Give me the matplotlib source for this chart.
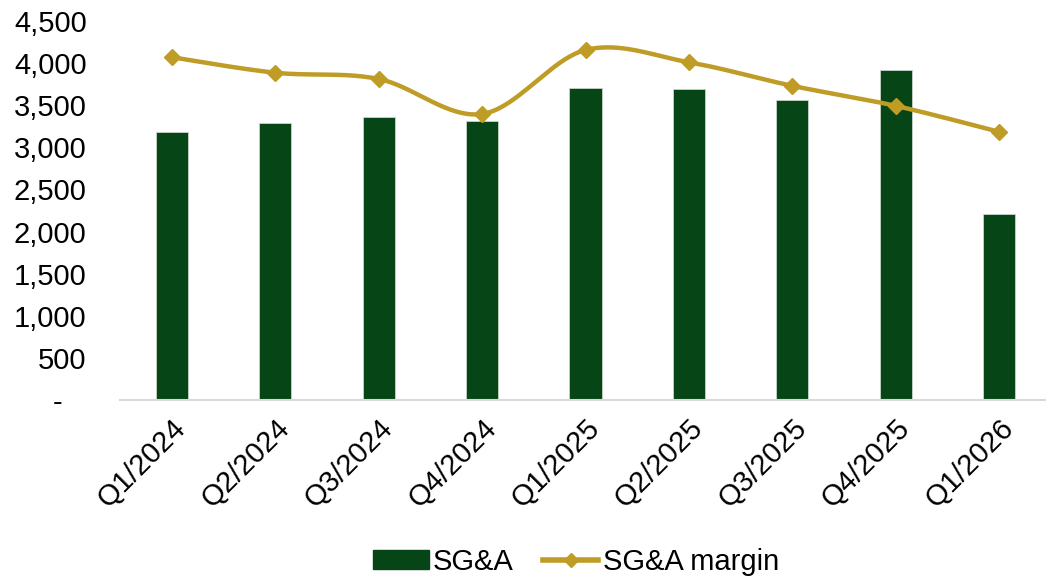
import numpy as np
import matplotlib
matplotlib.use("Agg")
import matplotlib.pyplot as plt
from matplotlib.lines import Line2D
from matplotlib.patches import Patch

categories = ["Q1/2024", "Q2/2024", "Q3/2024", "Q4/2024", "Q1/2025",
              "Q2/2025", "Q3/2025", "Q4/2025", "Q1/2026"]
sga = [3186, 3293, 3365, 3317, 3700, 3697, 3559, 3923, 2205]
sga_margin = [20.35, 19.43, 19.06, 16.98, 20.78, 20.05, 18.65, 17.46, 15.92]  # %
y_ticks = [0, 500, 1000, 1500, 2000, 2500, 3000, 3500, 4000, 4500]

BAR_C = "#054516"
LINE_C = "#BF9C26"

plt.rcParams['font.family'] = ['Liberation Sans', 'DejaVu Sans']

fig = plt.figure(figsize=(10.46, 5.78), dpi=100)
ax = fig.add_axes([120/1046, 178/578, 931/1046, 379/578])
x = np.arange(len(categories))
ax.bar(x, sga, width=0.31, color=BAR_C, edgecolor="#c8d4c8", linewidth=0.6, zorder=2)
ax.set_xlim(-0.5, len(categories) - 0.5)
ax.set_ylim(0, 4500)
ax.set_yticks(y_ticks)
ax.set_yticklabels(["-   "] + [f"{v:,}" for v in y_ticks[1:]])
ax.set_xticks(x)
ax.set_xticklabels(categories, rotation=45, ha='right', va='top', rotation_mode='anchor')
ax.tick_params(axis='y', length=0, pad=24, labelsize=21)
ax.tick_params(axis='x', length=0, pad=10, labelsize=21)
for s in ['top', 'right', 'left']:
    ax.spines[s].set_visible(False)
ax.spines['bottom'].set_color('#d9d9d9')
ax.spines['bottom'].set_linewidth(1.5)

# smoothed line (Catmull-Rom, like Excel smoothing) on hidden secondary axis
ax2 = ax.twinx()
ax2.set_ylim(0, 22.5)
ax2.set_axis_off()
P = np.column_stack([x, sga_margin]).astype(float)
Pext = np.vstack([P[0], P, P[-1]])
curve = []
for i in range(1, len(Pext) - 2):
    p0, p1, p2, p3 = Pext[i-1], Pext[i], Pext[i+1], Pext[i+2]
    c1 = p1 + (p2 - p0) / 6
    c2 = p2 - (p3 - p1) / 6
    t = np.linspace(0, 1, 40)[:, None]
    seg = (1-t)**3*p1 + 3*(1-t)**2*t*c1 + 3*(1-t)*t**2*c2 + t**3*p2
    curve.append(seg)
curve = np.vstack(curve)
ax2.plot(curve[:, 0], curve[:, 1], color=LINE_C, linewidth=3.2, solid_capstyle='round', zorder=3)
ax2.plot(x, sga_margin, linestyle='none', marker='D', markersize=8.5, color=LINE_C, zorder=4)

handles = [Patch(facecolor=BAR_C, edgecolor=BAR_C),
           Line2D([], [], color=LINE_C, linewidth=4, marker='D', markersize=7)]
fig.legend(handles, ["SG&A", "SG&A margin"], loc='center', bbox_to_anchor=(576/1046, 1 - 562/578),
           ncol=2, frameon=False, fontsize=21, handlelength=1.9, handletextpad=0.15,
           columnspacing=1.0, handleheight=0.6)

fig.savefig("out.png", dpi=100)
